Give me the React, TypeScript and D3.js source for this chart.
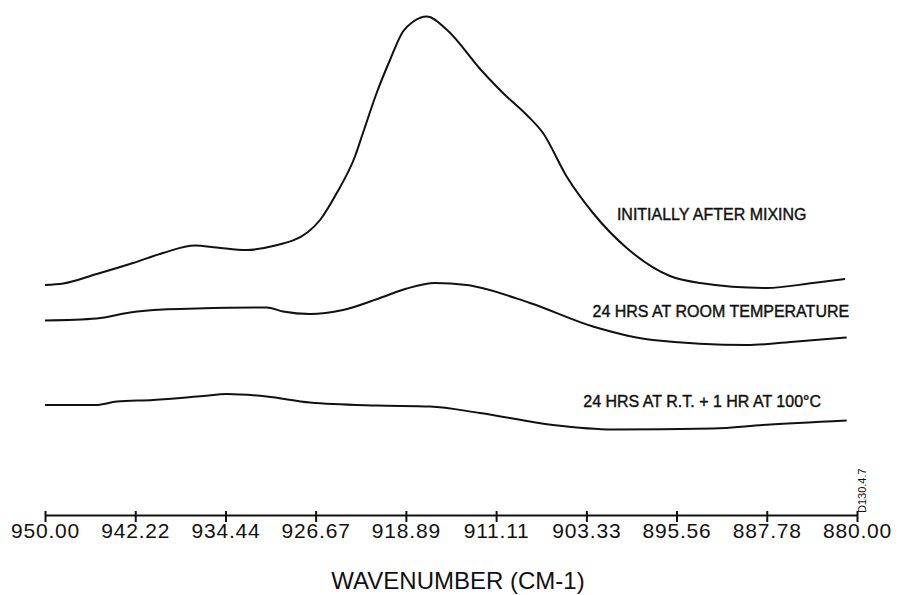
import * as d3 from 'd3';
import React, { useRef, useEffect } from 'react';

// wavenumber (cm-1) and absorbance (arbitrary units)
const mixWn = [950.0, 948.42, 945.54, 942.41, 939.83, 937.07, 935.2, 932.61, 930.34, 927.33, 926.29, 924.85, 923.28, 922.59, 921.41, 920.26, 919.14, 918.25, 917.07, 915.34, 912.41, 910.52, 908.47, 907.07, 905.03, 902.76, 899.85, 896.12, 893.53, 887.78, 883.79, 881.03];
const mixAbs = [46.0, 46.3, 48.2, 50.4, 52.4, 53.9, 53.5, 53.0, 53.8, 56.6, 59.0, 64.4, 71.7, 76.4, 84.4, 91.0, 96.7, 98.7, 99.7, 97.0, 89.0, 84.4, 80.0, 76.4, 67.7, 60.4, 53.4, 47.8, 46.4, 45.4, 46.4, 47.2];

const roomWn = [950.0, 945.54, 942.67, 939.83, 936.92, 930.89, 929.48, 927.16, 924.31, 921.12, 918.82, 916.38, 913.65, 908.19, 902.76, 897.59, 889.51, 885.2, 880.89];
const roomAbs = [38.9, 39.3, 40.5, 41.1, 41.3, 41.5, 40.7, 40.2, 41.0, 43.4, 45.3, 46.4, 46.0, 42.4, 37.7, 35.0, 34.0, 34.7, 35.5];

const heatWn = [950.0, 945.6, 943.8, 940.69, 936.38, 934.34, 930.89, 927.16, 921.41, 916.81, 912.5, 906.21, 901.03, 892.41, 888.1, 880.89];
const heatAbs = [22.0, 22.0, 22.7, 23.0, 23.8, 24.2, 23.7, 22.5, 21.9, 21.7, 20.4, 18.0, 17.1, 17.3, 18.0, 18.9];

const tickVals = [950.0, 942.22, 934.44, 926.67, 918.89, 911.11, 903.33, 895.56, 887.78, 880.0];

const seriesNames = ["INITIALLY AFTER MIXING", "24 HRS AT ROOM TEMPERATURE", "24 HRS AT R.T. + 1 HR AT 100\u00B0C"];
// caption anchor: wavenumber and absorbance where each caption starts
const labelWn = [900.7, 902.8, 903.6];
const labelAbs = [59.0, 39.6, 21.6];

const FONT = "'Liberation Sans', Arial, Helvetica, sans-serif";

function SpectraChart({ width, height }) {
    const ref = useRef();

    useEffect(() => {
        draw();
    }, []);

    const draw = () => {
        const svg = d3.select(ref.current);
        svg.selectAll("*").remove();

        const x = d3.scaleLinear().domain([950, 880]).range([45, 857]);
        const y = d3.scaleLinear().domain([0, 100]).range([515, 15]);

        const line = d3.line()
            .x(d => x(d[0]))
            .y(d => y(d[1]))
            .curve(d3.curveMonotoneX);

        const series = [
            d3.zip(mixWn, mixAbs),
            d3.zip(roomWn, roomAbs),
            d3.zip(heatWn, heatAbs),
        ];

        svg.selectAll("path.trace")
            .data(series)
            .enter()
            .append("path")
            .attr("class", "trace")
            .attr("d", line)
            .attr("fill", "none")
            .attr("stroke", "#111")
            .attr("stroke-width", 2)
            .attr("stroke-linejoin", "round");

        // captions
        svg.selectAll("text.caption")
            .data(seriesNames)
            .enter()
            .append("text")
            .attr("class", "caption")
            .attr("x", (d, i) => x(labelWn[i]))
            .attr("y", (d, i) => y(labelAbs[i]))
            .text(d => d)
            .style("font-family", FONT)
            .style("font-size", "16px")
            .style("fill", "#111")
            .style("stroke", "#111")
            .style("stroke-width", "0.4px");

        // x axis
        const axis = svg.append("g")
            .attr("transform", "translate(0,515)")
            .call(d3.axisBottom(x).tickValues(tickVals).tickFormat(d3.format(".2f")).tickSizeOuter(0));

        axis.select(".domain").attr("stroke", "#111").attr("stroke-width", 2);
        axis.selectAll(".tick line")
            .attr("y1", -4)
            .attr("y2", 7)
            .attr("stroke", "#111")
            .attr("stroke-width", 2);
        axis.selectAll(".tick text")
            .attr("y", 23)
            .attr("dy", 0)
            .style("font-family", FONT)
            .style("font-size", "21px")
            .style("letter-spacing", "0.8px")
            .style("fill", "#111");

        svg.append("text")
            .attr("x", 458)
            .attr("y", 589)
            .style("text-anchor", "middle")
            .style("font-family", FONT)
            .style("font-size", "24px")
            .style("fill", "#111")
            .text("WAVENUMBER (CM-1)");

        svg.append("text")
            .attr("transform", "translate(866,513) rotate(-90)")
            .style("font-family", FONT)
            .style("font-size", "11px")
            .style("fill", "#111")
            .text("D130.4.7");
    };

    return (
        <svg ref={ref} width={width} height={height}
            style={{ position: "absolute", left: 0, top: 0, background: "#fff" }}>
        </svg>
    );
}

export default function App() {
    return <SpectraChart width={899} height={595} />;
}
